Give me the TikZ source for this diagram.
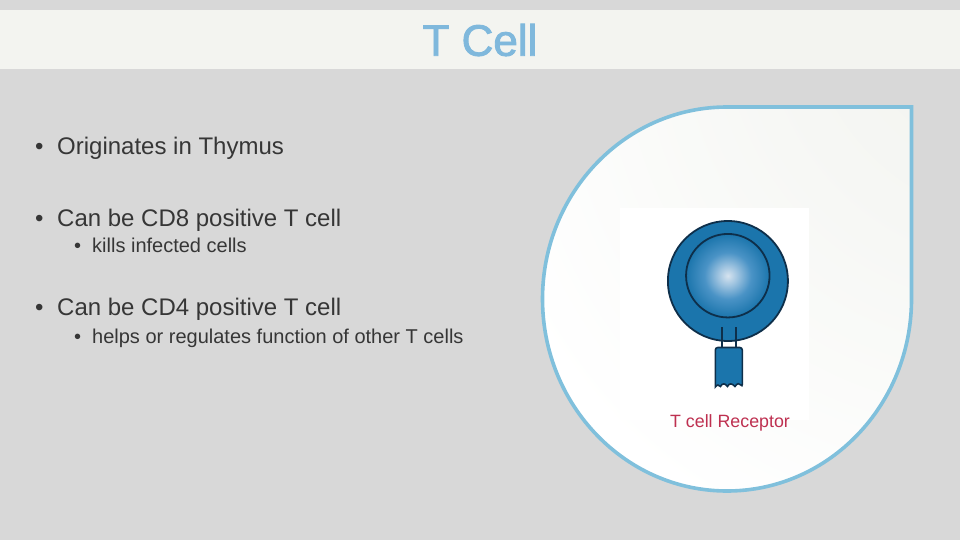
\documentclass[tikz,border=0pt]{standalone}
\usepackage{fontspec}
\setmainfont{Liberation Sans}
\newfontfamily\titlefont[FakeBold=2]{Liberation Sans}
\usepackage{tikz}
\usetikzlibrary{positioning}
\definecolor{slidegrey}{HTML}{D8D8D8}
\definecolor{bandgrey}{HTML}{F3F4F0}
\definecolor{titleblue}{HTML}{7FB8DC}
\definecolor{dropblue}{HTML}{80C0DC}
\definecolor{cellblue}{HTML}{1B75AC}
\definecolor{cellline}{HTML}{0E2F4A}
\definecolor{bodytext}{HTML}{363636}
\definecolor{receptorred}{HTML}{BE3050}
\definecolor{nucleusa}{HTML}{D6E3EF}
\definecolor{nucleusb}{HTML}{9CC2DF}
\definecolor{nucleusc}{HTML}{4A93C6}
\definecolor{fadea}{HTML}{EFF0EB}
\definecolor{fadeb}{HTML}{F6F7F4}
\pgfdeclareradialshading{nucleusfade}{\pgfpoint{0bp}{0bp}}{
  color(0bp)=(nucleusa);
  color(6bp)=(nucleusb);
  color(14bp)=(nucleusc);
  color(25bp)=(cellblue);
  color(100bp)=(cellblue)}
\pgfdeclareradialshading{cornerfade}{\pgfpoint{50bp}{50bp}}{
  color(0bp)=(fadea);
  color(32bp)=(fadeb);
  color(64bp)=(white);
  color(150bp)=(white)}
\newcommand{\bul}[2]{\makebox[#1][l]{\textbullet}#2}

\begin{document}
\begin{tikzpicture}[
  x=1pt, y=-1pt,
  lvlone/.style={anchor=base west, inner sep=0pt, text=bodytext, font=\fontsize{24}{28}\selectfont},
  lvltwo/.style={anchor=base west, inner sep=0pt, text=bodytext, font=\fontsize{20}{24}\selectfont},
  cellring/.style={circle, draw=cellline, line width=1.8pt, inner sep=0pt}
]
\useasboundingbox (0,0) rectangle (960,540);
\fill[slidegrey] (0,0) rectangle (960,540);
\fill[bandgrey] (0,10) rectangle (960,69);
\node[inner sep=0pt, text=titleblue, font=\titlefont\fontsize{44}{50}\selectfont] (title) at (480,40) {T Cell};

% bullets
\node[lvlone] (origin) at (35,154.5) {\bul{22pt}{Originates in Thymus}};
\node[lvlone] (cdeight) at (35,226) {\bul{22pt}{Can be CD8 positive T cell}};
\node[lvltwo] (kills) at (74,252.5) {\bul{18pt}{kills infected cells}};
\node[lvlone] (cdfour) at (35,315) {\bul{22pt}{Can be CD4 positive T cell}};
\node[lvltwo] (helps) at (74,343) {\bul{18pt}{helps or regulates function of other T cells}};

% teardrop panel
\shade[shading=cornerfade] (727,107) -- (911.5,107) -- (911.5,299)
  arc[start angle=0, end angle=270, x radius=184.5, y radius=192] -- cycle;
\fill[white] (620,207.5) rectangle (809,420);
\draw[dropblue, line width=3.6pt, miter limit=10] (727,107) -- (911.5,107) -- (911.5,299)
  arc[start angle=0, end angle=270, x radius=184.5, y radius=192] -- cycle;

% cell
\node[cellring, fill=cellblue, minimum size=120pt] (cell) at (727.9,281) {};
\node[cellring, shading=nucleusfade, minimum size=83.5pt] (nucleus) at (727.8,275.7) {};
\fill[white] (721.5,341.5) rectangle (735.5,347.5);
\draw[cellline, line width=2pt] (721.5,327) -- (721.5,347.5);
\draw[cellline, line width=2pt] (735.5,327) -- (735.5,347.5);
\draw[cellline, fill=cellblue, line width=1.6pt, rounded corners=2.5pt] (715.3,387) -- (715.3,347.5) -- (742.3,347.5) -- (742.3,387)
  [sharp corners] .. controls (739.5,383) and (737,383) .. (735,386.5) .. controls (732,383) and (729,383) .. (727.5,386.5)
  .. controls (725,383) and (722,383) .. (720.5,386.5) .. controls (719,384.5) and (717,384.5) .. (715.3,387) -- cycle;
\node[text=receptorred, inner sep=0pt, anchor=base, font=\fontsize{17.8}{20}\selectfont] (tcr) at (730,427) {T cell Receptor};
\end{tikzpicture}
\end{document}
